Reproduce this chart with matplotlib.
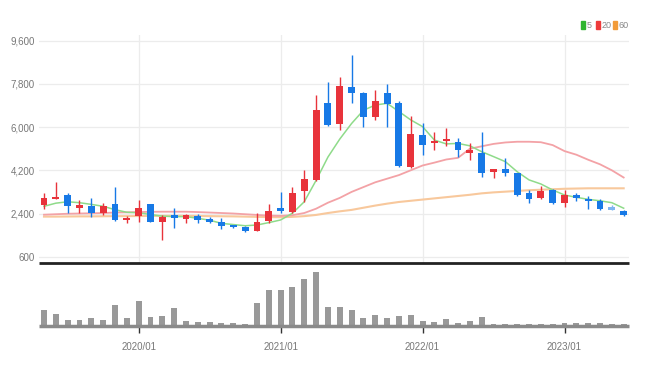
import matplotlib
matplotlib.use("Agg")
import matplotlib.pyplot as plt
from matplotlib.patches import Rectangle

# ---- data (monthly candles 2019/05 .. 2023/06) ----
opens  = [2754, 3000, 3170, 2620, 2725, 2410, 2780, 2130, 2300, 2780,
          2030, 2340, 2180, 2310, 2170, 2060, 1910, 1830, 1680, 2090,
          2620, 2480, 3340, 3800, 6990, 6130, 7680, 7400, 6410, 7410,
          6990, 4350, 5670, 5320, 5420, 5390, 4930, 4930, 4130, 4270,
          4080, 3270, 3030, 3380, 2850, 3170, 3000, 2920, 2660, 2500]
closes = [3033, 3100, 2712, 2740, 2410, 2710, 2130, 2210, 2620, 2060,
          2270, 2200, 2320, 2130, 2050, 1890, 1830, 1680, 2060, 2520,
          2500, 3270, 3830, 6710, 6090, 7710, 7430, 6410, 7100, 6960,
          4380, 5710, 5250, 5420, 5500, 5050, 5050, 4100, 4240, 4100,
          3170, 2990, 3340, 2830, 3170, 3030, 2930, 2580, 2550, 2340]
highs  = [3240, 3720, 3270, 2960, 3030, 2850, 3520, 2300, 2960, 2790,
          2340, 2610, 2400, 2370, 2270, 2200, 1940, 1860, 2430, 2780,
          3310, 3520, 4210, 7340, 7880, 8100, 9000, 7480, 7550, 7780,
          7100, 6460, 6160, 5810, 5950, 5530, 5330, 5810, 4270, 4700,
          4100, 3380, 3550, 3420, 3380, 3270, 3130, 3010, 2750, 2540]
lows   = [2580, 3000, 2410, 2410, 2240, 2340, 2100, 1990, 2060, 2040,
          1300, 1780, 1990, 1990, 1990, 1750, 1780, 1650, 1680, 1990,
          2410, 2410, 2890, 3750, 6050, 5880, 7020, 5990, 6300, 5990,
          4350, 4280, 4840, 5050, 5210, 4770, 4630, 3930, 3860, 3960,
          3130, 2850, 2990, 2800, 2660, 2930, 2580, 2540, 2540, 2300]
ma5    = [2700, 2830, 2890, 2850, 2780, 2700, 2560, 2450, 2430, 2360,
          2290, 2270, 2270, 2200, 2120, 1990, 1940, 1890, 1920, 2020,
          2130, 2410, 2890, 3780, 4750, 5500, 6150, 6700, 6920, 6990,
          6650, 6300, 6020, 5460, 5300, 5320, 5220, 4975, 4770, 4560,
          4140, 3800, 3630, 3380, 3170, 3075, 2990, 2930, 2850, 2620]
ma20   = [2350, 2370, 2390, 2400, 2410, 2420, 2440, 2450, 2460, 2470,
          2475, 2475, 2475, 2460, 2440, 2420, 2400, 2370, 2340, 2310,
          2300, 2330, 2420, 2600, 2850, 3050, 3300, 3500, 3700, 3850,
          4000, 4200, 4400, 4520, 4650, 4720, 5100, 5200, 5300, 5360,
          5390, 5390, 5370, 5250, 5000, 4850, 4640, 4450, 4200, 3900]
ma60   = [2270, 2270, 2275, 2280, 2280, 2285, 2290, 2290, 2295, 2300,
          2300, 2300, 2300, 2295, 2290, 2285, 2280, 2270, 2260, 2250,
          2245, 2260, 2290, 2340, 2420, 2490, 2550, 2640, 2730, 2810,
          2880, 2930, 2980, 3030, 3080, 3130, 3180, 3240, 3280, 3310,
          3340, 3370, 3390, 3410, 3430, 3440, 3450, 3450, 3450, 3450]
volume = [163, 123, 57, 57, 73, 57, 213, 73, 247, 90,
          97, 180, 47, 40, 40, 30, 27, 13, 230, 357,
          357, 390, 473, 547, 190, 190, 163, 73, 107, 73,
          97, 107, 47, 40, 63, 30, 47, 90, 20, 20,
          20, 20, 20, 20, 25, 25, 25, 25, 20, 20]
year_idx = [8, 20, 32, 44]
year_labels = ["2020/01", "2021/01", "2022/01", "2023/01"]
ytick_vals = [600, 2400, 4200, 6000, 7800, 9600]
legend_labels = ["5", "20", "60"]

RED = "#e8333b"
BLUE = "#1779e6"
C_MA5 = "#8fdb8a"
C_MA20 = "#f3a2a6"
C_MA60 = "#f8c89c"
FONT = ["Liberation Sans Narrow", "Liberation Sans", "DejaVu Sans"]

W, H = 647, 366
fig = plt.figure(figsize=(W / 100, H / 100), dpi=100)

def fx(px):
    return px / W

def fy(py):
    return 1 - py / H

# volume axes first (drawn underneath): baseline at y=325.7, top at 263
ax_v = fig.add_axes([fx(39), fy(325.7), fx(629) - fx(39), fy(263) - fy(325.7)])
ax_v.patch.set_visible(False)

# main axes: x 39..629 px, y 35..263 px
ax = fig.add_axes([fx(39), fy(263), fx(629) - fx(39), fy(35) - fy(263)])
ax.patch.set_visible(False)
px_per_val = 43.2 / 1800.0
ymin = 9600 - (263 - 40.7) / px_per_val
ymax = 9600 + (40.7 - 35) / px_per_val
xmin = (39 - 44) / 11.83
xmax = (629 - 44) / 11.83
ax.set_xlim(xmin, xmax)
ax.set_ylim(ymin, ymax)

n = len(opens)
xs = list(range(n))

ax.plot(xs, ma60, color=C_MA60, lw=1.5, zorder=2)
ax.plot(xs, ma20, color=C_MA20, lw=1.3, zorder=2)
ax.plot(xs, ma5, color=C_MA5, lw=1.1, zorder=2)

min_body = 1.8 / px_per_val
for i in xs:
    o, c, h, l = opens[i], closes[i], highs[i], lows[i]
    col = RED if c >= o else BLUE
    if i == n - 2:
        col = "#7fb6f0"
    ax.vlines(i, l, h, color=col, lw=1.0, zorder=3)
    b = min(o, c)
    hgt = max(abs(c - o), min_body)
    ax.bar(i, hgt, bottom=b, width=0.58, color=col, zorder=4, linewidth=0)

ax.set_yticks(ytick_vals)
ax.set_yticklabels([f"{v:,}" for v in ytick_vals], fontsize=7,
                   color="#777777", family=FONT)
ax.set_xticks(year_idx)
ax.set_xticklabels([])
ax.tick_params(axis="both", length=0, pad=3)
ax.grid(True, color="#ececec", lw=0.9)
ax.set_axisbelow(True)
for s in ax.spines.values():
    s.set_visible(False)
ax.plot([xmin, xmax], [ymin, ymin], color="#222222", lw=2.0, zorder=5,
        clip_on=False, solid_capstyle="butt")

ax_v.set_xlim(xmin, xmax)
ax_v.set_ylim(0, max(volume) * (325.7 - 263) / (325.7 - 271.7))
ax_v.bar(xs, volume, width=0.5, color="#999999", linewidth=0, zorder=2)
ax_v.plot([xmin, xmax], [0, 0], color="#8a8a8a", lw=2.5, zorder=3,
          clip_on=False, solid_capstyle="butt")
ax_v.set_yticks([])
ax_v.set_xticks(year_idx)
ax_v.set_xticklabels(year_labels, fontsize=7, color="#777777", family=FONT)
ax_v.tick_params(axis="x", length=5, width=1, color="#333333", pad=7, direction="out")
for s in ax_v.spines.values():
    s.set_visible(False)

# legend (top right)
leg_cols = ["#2fb52f", "#ee3a3a", "#f29b38"]
leg_x = [581, 596, 613]
for lab, col, x0 in zip(legend_labels, leg_cols, leg_x):
    fig.patches.append(Rectangle((fx(x0), fy(29)), fx(4), fy(21) - fy(29),
                                 transform=fig.transFigure, color=col))
    fig.text(fx(x0 + 5.5), fy(25), lab, fontsize=6.5, color="#888888",
             family=FONT, va="center", ha="left")

fig.savefig("out.png", dpi=100)
